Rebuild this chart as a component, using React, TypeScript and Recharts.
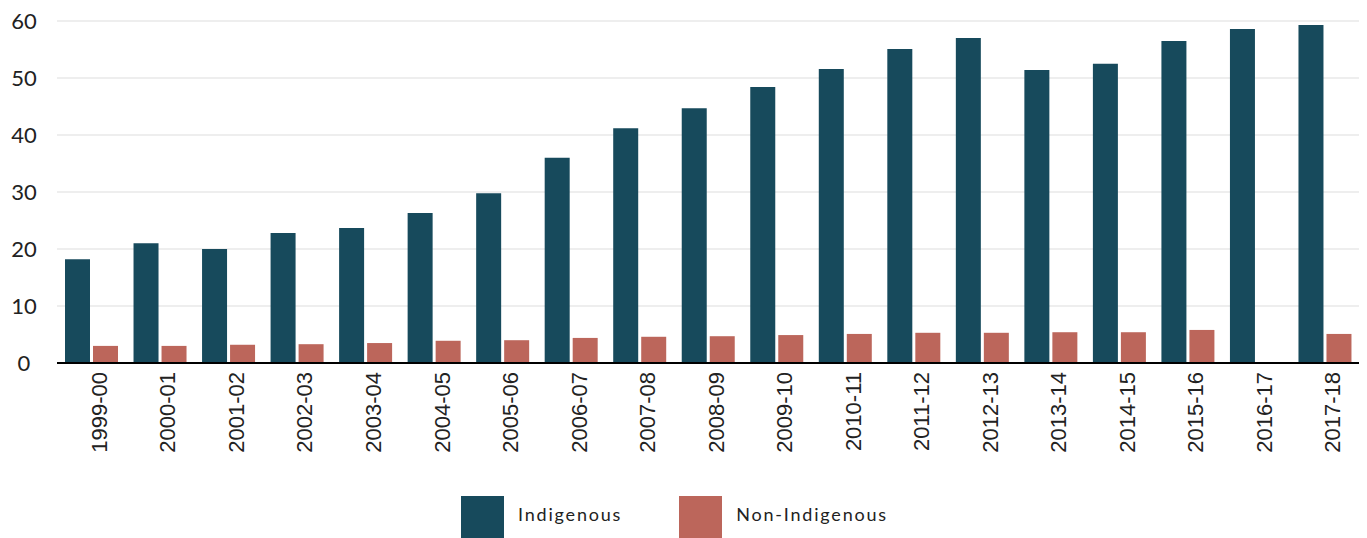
import React from "react";
import { BarChart, Bar, XAxis, YAxis, CartesianGrid, Legend } from "recharts";

const years = ["1999-00","2000-01","2001-02","2002-03","2003-04","2004-05","2005-06","2006-07","2007-08","2008-09","2009-10","2010-11","2011-12","2012-13","2013-14","2014-15","2015-16","2016-17","2017-18"];
const indigenous = [18.2,21.0,20.0,22.8,23.7,26.3,29.8,36.0,41.2,44.7,48.4,51.6,55.1,57.0,51.4,52.5,56.5,58.6,59.3];
const nonIndigenous: (number | null)[] = [3.0,3.0,3.2,3.3,3.5,3.9,4.0,4.4,4.6,4.7,4.9,5.1,5.3,5.3,5.4,5.4,5.8,null,5.1];
const yTicks = [0,10,20,30,40,50,60];

const seriesNames = ["Indigenous", "Non-Indigenous"];
const colors = ["#174a5c", "#bc665b"];

const data = years.map((y, i) => ({ year: y, ind: indigenous[i], non: nonIndigenous[i] }));

const LegendContent = () => (
  <div style={{ display: "flex", justifyContent: "center", alignItems: "center", height: 42, paddingRight: 18 }}>
    {seriesNames.map((n, i) => (
      <div key={n} style={{ display: "flex", alignItems: "center", marginRight: i === 0 ? 57 : 0 }}>
        <div style={{ width: 43, height: 42, background: colors[i] }} />
        <span style={{ marginLeft: 14, fontFamily: "Lato", fontSize: 18, letterSpacing: 1.8, color: "#222", position: "relative", top: -3 }}>{n}</span>
      </div>
    ))}
  </div>
);

export default function App() {
  return (
    <BarChart
      width={1351}
      height={530}
      data={data}
      margin={{ top: 13, right: 0, bottom: 0, left: 0 }}
      barCategoryGap={8}
      barGap={3}
    >
      <CartesianGrid vertical={false} stroke="#eeeeee" strokeWidth={2} />
      <XAxis
        dataKey="year"
        interval={0}
        height={133}
        tickLine={false}
        axisLine={{ stroke: "#000", strokeWidth: 2 }}
        tickSize={0}
        tickMargin={17}
        angle={-90}
        textAnchor="end"
        tick={{ fill: "#222", fontFamily: "Liberation Sans", fontSize: 22, dy: -8 }}
      />
      <YAxis
        width={49}
        domain={[0, 60]}
        ticks={yTicks}
        axisLine={false}
        tickLine={false}
        tickSize={0}
        tickMargin={33}
        tick={{ fill: "#222", fontFamily: "Lato", fontSize: 22, textAnchor: "middle" }}
      />
      <Legend verticalAlign="bottom" height={42} content={<LegendContent />} />
      <Bar dataKey="ind" name="Indigenous" fill={colors[0]} isAnimationActive={false} />
      <Bar dataKey="non" name="Non-Indigenous" fill={colors[1]} isAnimationActive={false} />
    </BarChart>
  );
}
